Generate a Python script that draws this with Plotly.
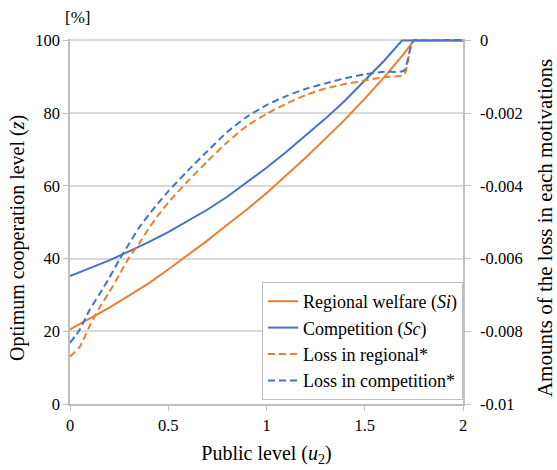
import plotly.graph_objects as go

# ---- data ----
u_si = [0, 0.1, 0.2, 0.3, 0.4, 0.5, 0.6, 0.7, 0.8, 0.9, 1.0, 1.1, 1.2, 1.3, 1.4, 1.5, 1.6, 1.7, 1.75, 2.0]
z_si = [20.5, 23.5, 26.5, 29.8, 33.2, 37.0, 41.0, 45.0, 49.3, 53.5, 58.0, 62.8, 67.8, 73.0, 78.3, 84.0, 90.0, 96.4, 100, 100]

u_sc = [0, 0.1, 0.2, 0.3, 0.4, 0.5, 0.6, 0.7, 0.8, 0.9, 1.0, 1.1, 1.2, 1.3, 1.4, 1.5, 1.6, 1.69, 2.0]
z_sc = [35.2, 37.3, 39.5, 42.0, 44.5, 47.3, 50.3, 53.5, 57.0, 60.9, 65.0, 69.3, 74.0, 78.5, 83.5, 89.0, 94.5, 100, 100]

u_loss = [0, 0.05, 0.1, 0.15, 0.2, 0.25, 0.3, 0.35, 0.4, 0.45, 0.5, 0.6, 0.7, 0.8, 0.9,
          1.0, 1.1, 1.2, 1.3, 1.4, 1.5, 1.6, 1.7, 1.75, 2.0]
loss_regional = [-0.00870, -0.00842, -0.00785, -0.00735, -0.00692, -0.00645, -0.00598, -0.00560,
                 -0.00518, -0.00480, -0.00446, -0.00387, -0.00332, -0.00280, -0.00235, -0.00202,
                 -0.00174, -0.00150, -0.00132, -0.00120, -0.00110, -0.00101, -0.00094, 0, 0]
loss_competition = [-0.00832, -0.00795, -0.00741, -0.00698, -0.00653, -0.00604, -0.00560, -0.00516,
                    -0.00480, -0.00447, -0.00415, -0.00358, -0.00304, -0.00252, -0.00210, -0.00178,
                    -0.00153, -0.00133, -0.00118, -0.00104, -0.00093, -0.00086, -0.00083, 0, 0]

x_ticks = [0, 0.5, 1, 1.5, 2]
x_ticklabels = ["0", "0.5", "1", "1.5", "2"]
y_ticks = [0, 20, 40, 60, 80, 100]
y2_ticks = [-0.01, -0.008, -0.006, -0.004, -0.002, 0]
y2_ticklabels = ["-0.01", "-0.008", "-0.006", "-0.004", "-0.002", "0"]

ORANGE = "#ED7D31"
BLUE = "#4472C4"
FONT = "'Liberation Serif', Tinos, 'Times New Roman', 'DejaVu Serif', serif"

fig = go.Figure()
fig.add_trace(go.Scatter(x=u_si, y=z_si, mode="lines", name="Regional welfare (<i>Si</i>)",
                         line=dict(color=ORANGE, width=2)))
fig.add_trace(go.Scatter(x=u_sc, y=z_sc, mode="lines", name="Competition (<i>Sc</i>)",
                         line=dict(color=BLUE, width=2)))
fig.add_trace(go.Scatter(x=u_loss, y=loss_regional, mode="lines", name="Loss in regional*",
                         yaxis="y2",
                         line=dict(color=ORANGE, width=2, dash="7px,4px", shape="spline", smoothing=0.6)))
fig.add_trace(go.Scatter(x=u_loss, y=loss_competition, mode="lines", name="Loss in competition*",
                         yaxis="y2",
                         line=dict(color=BLUE, width=2, dash="7px,4px", shape="spline", smoothing=0.6)))

axis_col = "#BFBFBF"
grid_col = "#D9D9D9"

fig.update_layout(
    width=557, height=470,
    margin=dict(l=70, r=94, t=39, b=66),
    paper_bgcolor="white", plot_bgcolor="white",
    font=dict(family=FONT, size=16, color="#000000"),
    showlegend=True,
    legend=dict(x=1, xanchor="right", y=0.011, yanchor="bottom",
                bgcolor="white", bordercolor=axis_col, borderwidth=1,
                font=dict(family=FONT, size=18), tracegroupgap=0, itemwidth=30),
    xaxis=dict(range=[0, 2], tickvals=x_ticks, ticktext=x_ticklabels,
               showgrid=False, zeroline=False, automargin=False,
               showline=True, linecolor=axis_col, linewidth=1.5,
               ticks="outside", ticklen=5, tickcolor=axis_col,
               tickfont=dict(family=FONT, size=16.5),
               title=dict(text="Public level (<i>u</i><sub>2</sub>)", standoff=12,
                          font=dict(family=FONT, size=20))),
    yaxis=dict(range=[0, 100.4], tickvals=y_ticks,
               showgrid=True, gridcolor=grid_col, gridwidth=1.5, zeroline=False, automargin=False,
               showline=True, linecolor=axis_col, linewidth=1.5,
               ticks="outside", ticklen=5, tickcolor=axis_col,
               tickfont=dict(family=FONT, size=16.5)),
    yaxis2=dict(range=[-0.01, 0.00004], overlaying="y", side="right",
                tickvals=y2_ticks, ticktext=y2_ticklabels, automargin=False,
                showgrid=False, zeroline=False,
                showline=True, linecolor=axis_col, linewidth=1.5,
                ticks="outside", ticklen=6, tickcolor=axis_col, ticklabelstandoff=6,
                tickfont=dict(family=FONT, size=16.5)),
)

# axis titles placed as annotations (rotated)
fig.add_annotation(text="Optimum cooperation level (<i>z</i>)", textangle=-90,
                   xref="paper", yref="paper", x=-0.1323, y=0.455,
                   xanchor="center", yanchor="middle", showarrow=False,
                   font=dict(family=FONT, size=20))
fig.add_annotation(text="Amounts of the loss in each motivations", textangle=-90,
                   xref="paper", yref="paper", x=1.2087, y=0.482,
                   xanchor="center", yanchor="middle", showarrow=False,
                   font=dict(family=FONT, size=21))

fig.add_annotation(text="[%]", xref="paper", yref="paper", x=-0.018, y=1.058,
                   xanchor="left", yanchor="middle", showarrow=False,
                   font=dict(family=FONT, size=17))

fig.write_html("out.html")
